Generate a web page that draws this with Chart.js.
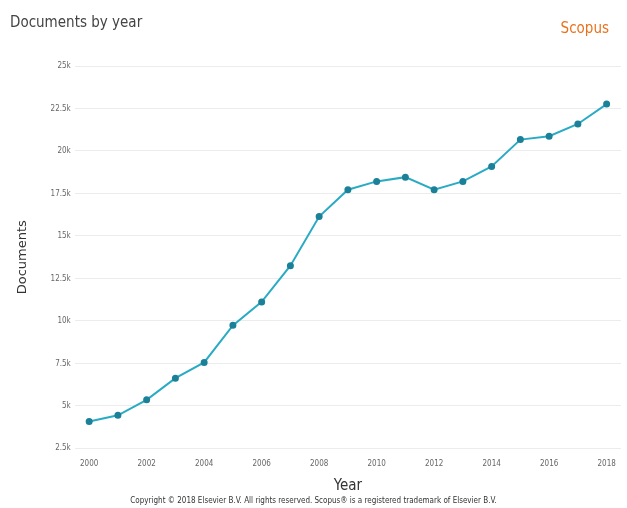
<!DOCTYPE html>
<html>
<head>
<meta charset="utf-8">
<script src="https://cdn.jsdelivr.net/npm/chart.js@4.4.0/dist/chart.umd.min.js"></script>
<style>
    body { margin: 0; background: #fff; }
    .wrap { position: relative; width: 627px; height: 508px; overflow: hidden; }
    .chart-title { position: absolute; left: 10px; top: 13px; font: 15px 'Liberation Sans Narrow', 'DejaVu Sans Condensed', sans-serif; color: #444; }
    .brand { position: absolute; right: 18px; top: 19px; font: 15px 'Liberation Sans Narrow', 'DejaVu Sans Condensed', sans-serif; color: #e9711c; }
    .copy { position: absolute; left: 0; width: 627px; top: 496px; text-align: center; font: 8px 'Liberation Sans Narrow', 'DejaVu Sans Condensed', sans-serif; color: #333; }
</style>
</head>
<body>
<div class="wrap">
    <div class="chart-title">Documents by year</div>
    <div class="brand">Scopus</div>
    <canvas id="docsChart" width="627" height="508"></canvas>
    <div class="copy">Copyright © 2018 Elsevier B.V. All rights reserved. Scopus® is a registered trademark of Elsevier B.V.</div>
</div>
<script>
// Data
const years = ['2000', '2001', '2002', '2003', '2004', '2005', '2006', '2007', '2008', '2009',
               '2010', '2011', '2012', '2013', '2014', '2015', '2016', '2017', '2018'];
const documents = [4080, 4450, 5360, 6630, 7560, 9740, 11120, 13250, 16140, 17720,
                   18210, 18460, 17720, 18210, 19090, 20670, 20870, 21590, 22760];
const yTicks = [2500, 5000, 7500, 10000, 12500, 15000, 17500, 20000, 22500, 25000];

const narrow = "'Liberation Sans Narrow', 'DejaVu Sans Condensed', sans-serif";

new Chart(document.getElementById('docsChart'), {
    type: 'line',
    data: {
        labels: years,
        datasets: [{
            label: 'Documents',
            data: documents,
            borderColor: '#2aabc4',
            borderWidth: 2,
            pointBackgroundColor: '#1b8198',
            pointBorderColor: '#1b8198',
            pointRadius: 2.5,
            tension: 0,
            fill: false
        }]
    },
    options: {
        responsive: false,
        animation: false,
        layout: { padding: { top: 66, right: -3, bottom: 13, left: 15 } },
        plugins: { legend: { display: false }, tooltip: { enabled: false } },
        scales: {
            x: {
                offset: true,
                grid: { display: false },
                border: { display: false },
                ticks: {
                    autoSkip: false,
                    maxRotation: 0,
                    color: '#666',
                    font: { family: narrow, size: 8 },
                    callback: function (v, i) { return i % 2 === 0 ? years[i] : ''; }
                },
                title: { display: true, text: 'Year', color: '#333', font: { family: narrow, size: 15 }, padding: { top: 5, bottom: 0 } }
            },
            y: {
                min: yTicks[0],
                max: yTicks[yTicks.length - 1],
                afterBuildTicks: axis => { axis.ticks = yTicks.map(v => ({ value: v })); },
                grid: { color: '#ececec', drawTicks: false },
                border: { display: false },
                ticks: {
                    padding: 4,
                    color: '#666',
                    font: { family: narrow, size: 8 },
                    callback: v => (v / 1000) + 'k'
                },
                title: { display: true, text: 'Documents', color: '#333', font: { family: 'DejaVu Sans', size: 13 }, padding: { top: 0, bottom: 16 } }
            }
        }
    }
});
</script>
</body>
</html>
